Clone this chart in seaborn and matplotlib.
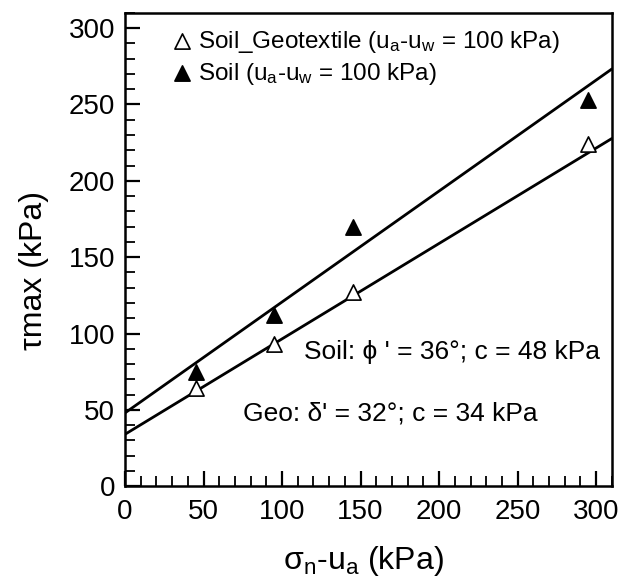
import numpy as np
import pandas as pd
import matplotlib
matplotlib.use("Agg")
import matplotlib.pyplot as plt
from matplotlib.ticker import MultipleLocator
import seaborn as sns

# Net normal stress (kPa) and peak shear stress (kPa)
net_normal = [45, 95, 145, 295]
tau_geo = [64, 93, 127, 224]
tau_soil = [75, 112, 170, 253]

# Failure envelope parameters (friction angle in degrees, cohesion in kPa)
soil_phi, soil_c = 36, 48
geo_delta, geo_c = 32, 34

x_line = [0, 310]

sns.set_style("ticks")
plt.rcParams["font.family"] = ["Liberation Sans", "DejaVu Sans"]
plt.rcParams["mathtext.fontset"] = "custom"
plt.rcParams["mathtext.rm"] = "Liberation Sans"
plt.rcParams["mathtext.it"] = "Liberation Sans"
for key in ["text.color", "axes.labelcolor", "xtick.color", "ytick.color", "axes.edgecolor"]:
    plt.rcParams[key] = "black"

fig = plt.figure(figsize=(6.25, 5.83), dpi=100)
ax = fig.add_axes([0.2, 0.166, 0.779, 0.812])

geo_df = pd.DataFrame({"x": net_normal, "y": tau_geo})
soil_df = pd.DataFrame({"x": net_normal, "y": tau_soil})

env = pd.DataFrame({
    "x": x_line,
    "soil": [soil_c + np.tan(np.radians(soil_phi)) * v for v in x_line],
    "geo": [geo_c + np.tan(np.radians(geo_delta)) * v for v in x_line],
})
sns.lineplot(data=env, x="x", y="soil", color="black", lw=2, ax=ax)
sns.lineplot(data=env, x="x", y="geo", color="black", lw=2, ax=ax)

sns.scatterplot(data=geo_df, x="x", y="y", marker="^", s=120, facecolor="white",
                edgecolor="black", linewidth=1.2, ax=ax, zorder=3,
                label="Soil_Geotextile (u$_a$-u$_w$ = 100 kPa)")
sns.scatterplot(data=soil_df, x="x", y="y", marker="^", s=120, color="black",
                edgecolor="black", linewidth=1.2, ax=ax, zorder=3,
                label="Soil (u$_a$-u$_w$ = 100 kPa)")

ax.set_xlim(0, 310)
ax.set_ylim(0, 310)
ax.xaxis.set_major_locator(MultipleLocator(50))
ax.xaxis.set_minor_locator(MultipleLocator(10))
ax.yaxis.set_major_locator(MultipleLocator(50))
ax.yaxis.set_minor_locator(MultipleLocator(10))
ax.tick_params(which="major", direction="in", length=11, width=1.6, labelsize=20,
               top=False, right=False)
ax.tick_params(which="minor", direction="in", length=7, width=1.3, top=False, right=False)
ax.tick_params(axis="y", which="major", pad=7)
ax.tick_params(axis="x", which="major", pad=9)
for sp in ax.spines.values():
    sp.set_linewidth(1.8)
    sp.set_visible(True)

ax.set_xlabel("σ$_n$-u$_a$ (kPa)", fontsize=23)
ax.set_ylabel("τmax (kPa)", fontsize=23)
ax.xaxis.set_label_coords(0.49, -0.123)
ax.yaxis.set_label_coords(-0.156, 0.455)

ax.text(114, 83, "Soil: ϕ ' = 36°; c = 48 kPa", fontsize=19, va="baseline", ha="left")
ax.text(75, 43, "Geo: δ' = 32°; c = 34 kPa", fontsize=19, va="baseline", ha="left")

ax.legend(loc="upper left", bbox_to_anchor=(0.07, 0.987), frameon=False,
          fontsize=17.5, handletextpad=0.1, handlelength=1.1, labelspacing=0.25,
          borderaxespad=0)

fig.savefig("out.png", dpi=100)
